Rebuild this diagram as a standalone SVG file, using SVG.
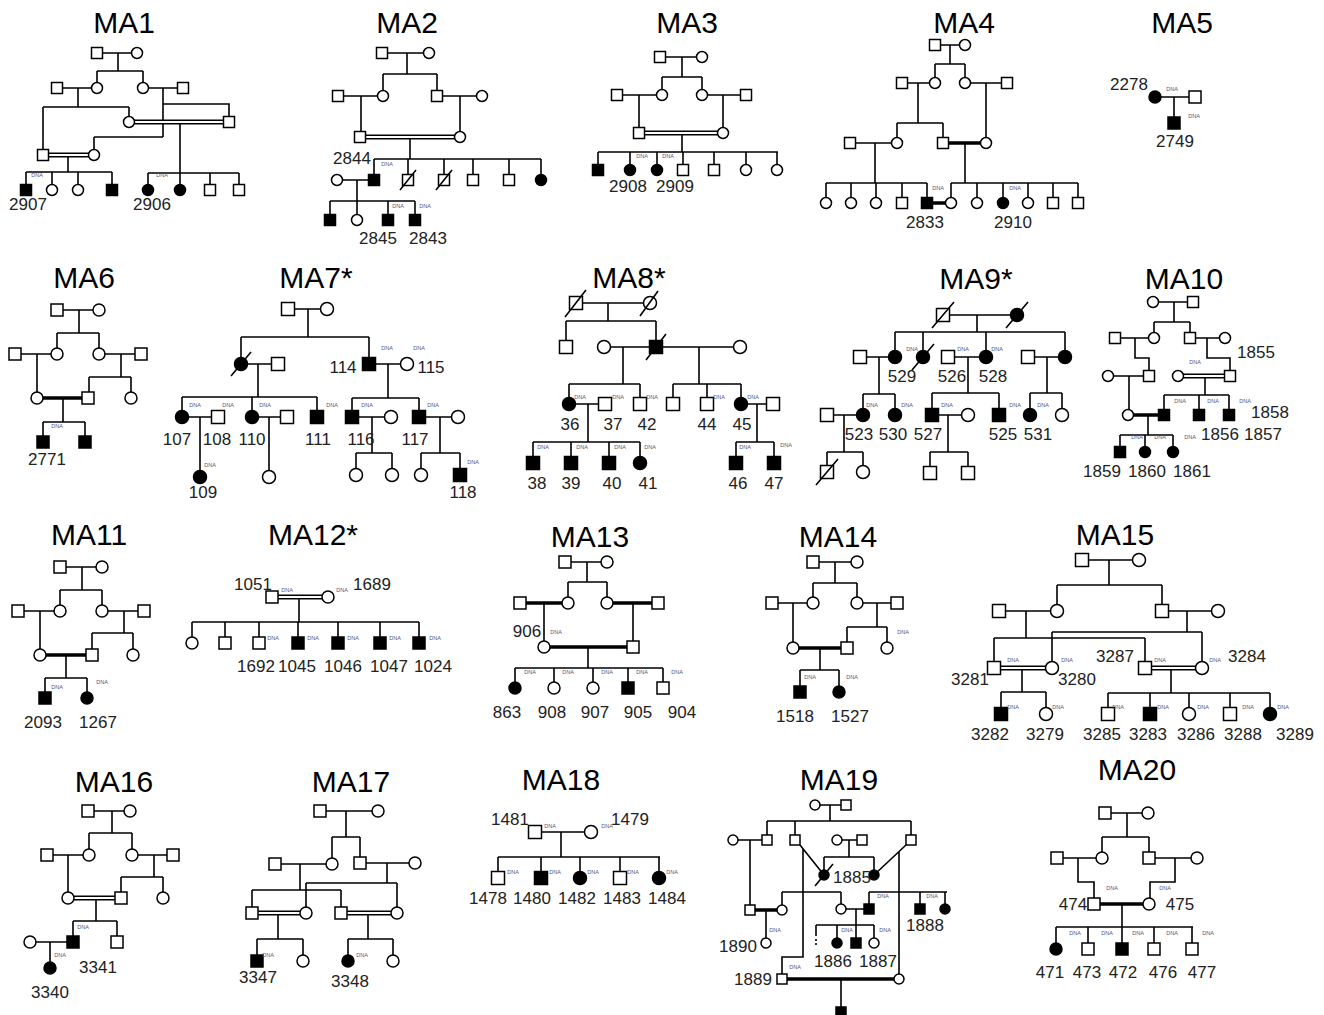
<svg xmlns="http://www.w3.org/2000/svg" xmlns:xlink="http://www.w3.org/1999/xlink" width="1324" height="1015" viewBox="0 0 1324 1015">
<style>
.l{stroke:#000;stroke-width:1.6;fill:none}
.tk{stroke:#000;stroke-width:3.6;fill:none}
.db{stroke:#000;stroke-width:5;fill:none}
.dw{stroke:#fff;stroke-width:1.8;fill:none}
.o{fill:#fff;stroke:#000;stroke-width:1.5}
.f{fill:#000;stroke:#000;stroke-width:1.5}
.ti{font-family:"Liberation Sans",Arial,sans-serif;font-size:30px;text-anchor:middle;fill:#000}
.lb{font-family:"Liberation Sans",Arial,sans-serif;font-size:17px;text-anchor:middle;fill:#222}
.d{font-family:"Liberation Sans",Arial,sans-serif;font-size:5.5px;text-anchor:middle;fill:#557}
</style>
<defs>
<rect id="h" x="-5.5" y="-5.5" width="11" height="11"/>
<circle id="i" r="5.5"/>
<rect id="q" x="-6" y="-6" width="12" height="12"/>
<circle id="r" r="6"/>
<rect id="Q" x="-6.5" y="-6.5" width="13" height="13"/>
<circle id="R" r="6.5"/>
<rect id="k" x="-5" y="-5" width="10" height="10"/>
<circle id="e" r="5"/>
</defs>
<rect width="1324" height="1015" fill="#fff"/>
<g id="connectors">
<path class="l" d="M102,53H132M118,53V71M97,71H143M97,71V88M143,71V88M57,88H97M78,88V107M43,107H129M43,107V155M129,107V122M143,88H183M163,88V137M163,104H229V122M94,137H163M94,137V155M180,122V173M148,173H239M148,173V190M180,173V190M210,173V190M239,173V190M68,155V172M26,172H112M26,172V190M52,172V190M78,172V190M112,172V190"/>
<path class="db" d="M129,122H229M43,155H94"/><path class="dw" d="M134,122H224M48,155H89"/>
<path class="l" d="M382,53H429M407,53V74M383,74H437M383,74V96M437,74V96M338,96H383M361,96V137M437,96H482M460,96V137M410,137V159M374,159H541M374,159V180M408,159V180M444,159V180M473,159V180M509,159V180M541,159V180M337,180H374M357,180V201M330,201H415M330,201V220M357,201V220M388,201V220M415,201V220"/>
<path class="db" d="M360,137H460"/><path class="dw" d="M365,137H455"/>
<path class="l" d="M660,57H702M682,57V77M662,77H702M662,77V95M702,77V95M617,95H662M639,95V133M702,95H746M723,95V133M682,133V152M598,152H778M598,152V170M630,152V170M657,152V170M683,152V170M714,152V170M746,152V170M777,152V170"/>
<path class="db" d="M639,133H723"/><path class="dw" d="M644,133H718"/>
<path class="l" d="M935,45H965M950,45V64M935,64H965M935,64V83M965,64V83M902,83H935M918,83V123M897,123H943M897,123V143M943,123V143M965,83H1007M986,83V143M850,143H897M875,143V183M826,183H927M826,183V203M851,183V203M876,183V203M902,183V203M927,183V203M965,143V183M951,183H1078M951,183V203M977,183V203M1003,183V203M1028,183V203M1053,183V203M1078,183V203"/>
<path class="tk" d="M943,143H986M927,203H951"/>
<path class="l" d="M1155,97H1195M1174,97V123"/>
<path class="l" d="M57,310H99M79,310V333M57,333H99M57,333V354M99,333V354M15,354H57M37,354V398M99,354H141M121,354V377M89,377H131M89,377V398M131,377V398M63,398V422M43,422H85M43,422V442M85,422V442"/>
<path class="tk" d="M37,398H88"/>
<path class="l" d="M288,309H327M308,309V337M241,337H369M241,337V364M369,337V364M241,364H278M258,364V397M182,397H317M182,397V417M252,397V417M317,397V417M369,364H407M388,364V398M352,398H419M352,398V417M419,398V417M182,417H218M200,417V477M252,417H287M269,417V477M352,417H391M372,417V453M356,453H392M356,453V475M392,453V475M419,417H458M440,417V453M421,453H460M421,453V475M460,453V475"/>
<path class="l" d="M576,303H650M608,303V321M566,321H656M566,321V347M656,321V347M604,347H740M623,347V384M569,384H640M569,384V404M640,384V404M569,404H605M588,404V442M533,442H640M533,442V463M571,442V463M609,442V463M640,442V463M699,347V384M673,384H741M673,384V404M707,384V404M741,384V404M741,404H773M757,404V442M736,442H774M736,442V463M774,442V463"/>
<path class="l" d="M943,315H1017M977,315V332M895,332H1065M895,332V357M923,332V357M986,332V357M1065,332V357M860,357H895M879,357V394M863,394H895M863,394V415M895,394V415M827,415H863M844,415V452M827,452H863M827,452V472M863,452V472M948,357H986M968,357V393M932,393H999M932,393V415M999,393V415M932,415H968M948,415V452M930,452H968M930,452V473M968,452V473M1028,357H1065M1047,357V393M1030,393H1062M1030,393V415M1062,393V415"/>
<path class="l" d="M1153,302H1193M1174,302V322M1154,322H1190M1154,322V338M1190,322V338M1115,338H1154M1135,338V358H1149V376M1190,338H1225M1207,338V358H1230V376M1108,376H1149M1129,376V415M1205,376V395M1164,395H1229M1164,395V415M1199,395V415M1229,395V415M1148,415V435M1120,435H1173M1120,435V452M1145,435V452M1173,435V452"/>
<path class="db" d="M1178,376H1230"/><path class="dw" d="M1183,376H1225"/>
<path class="tk" d="M1128,415H1164"/>
<path class="l" d="M60,567H102M82,567V590M60,590H102M60,590V611M102,590V611M18,611H60M40,611V655M102,611H144M124,611V633M92,633H133M92,633V655M133,633V655M66,655V678M45,678H87M45,678V698M87,678V698"/>
<path class="tk" d="M40,655H92"/>
<path class="l" d="M299,597V622M192,622H419M192,622V643M225,622V643M259,622V643M298,622V643M338,622V643M380,622V643M419,622V643"/>
<path class="db" d="M272,597H328"/><path class="dw" d="M277,597H323"/>
<path class="l" d="M565,562H607M587,562V582M568,582H607M568,582V603M607,582V603M544,603V647M633,603V647M588,647V668M515,668H663M515,668V688M554,668V688M593,668V688M628,668V688M663,668V688"/>
<path class="tk" d="M520,603H568M607,603H658M544,647H633"/>
<path class="l" d="M813,562H857M835,562V583M813,583H857M813,583V603M857,583V603M772,603H813M793,603V648M857,603H897M877,603V627M847,627H887M847,627V648M887,627V648M820,648V670M800,670H839M800,670V692M839,670V692"/>
<path class="tk" d="M793,648H847"/>
<path class="l" d="M1082,560H1139M1109,560V585M1057,585H1162M1057,585V611M1162,585V611M999,611H1057M1026,611V638M994,638H1145M994,638V668M1145,638V668M1162,611H1218M1187,611V632M1052,632H1202M1052,632V668M1202,632V668M1022,668V692M1001,692H1046M1001,692V714M1046,692V714M1171,668V693M1108,693H1270M1108,693V714M1150,693V714M1189,693V714M1230,693V714M1270,693V714"/>
<path class="db" d="M994,668H1052M1145,668H1202"/><path class="dw" d="M999,668H1047M1150,668H1197"/>
<path class="l" d="M88,811H130M112,811V833M89,833H132M89,833V855M132,833V855M47,855H89M68,855V898M132,855H173M154,855V877M121,877H163M121,877V898M163,877V898M96,898V921M73,921H117M73,921V942M117,921V942M30,942H73M50,942V968"/>
<path class="db" d="M68,898H121"/><path class="dw" d="M73,898H116"/>
<path class="l" d="M320,811H378M346,811V837M332,837H360M332,837V864M360,837V863M275,864H332M300,864V890M252,890H341M252,890V913M341,890V913M360,863H415M387,863V883M306,883H397M306,883V913M397,883V913M278,913V939M257,939H303M257,939V961M303,939V961M368,913V939M348,939H393M348,939V961M393,939V961"/>
<path class="db" d="M252,913H306M341,913H397"/><path class="dw" d="M257,913H301M346,913H392"/>
<path class="l" d="M535,832H591M561,832V857M498,857H660M498,857V878M541,857V878M580,857V878M620,857V878M659,857V878"/>
<path class="l" d="M815,805H846M830,805V821M767,821H911M767,821V840M795,821V840M911,821V840M733,840H767M750,840V910M800,845L824,875M906,845L874,875M837,840H862M849,840V857M824,857H874M824,857V875M874,857V875M803,849V957H782V979M899,852V979M782,892H841M782,892V910M841,892V909M869,892H947M869,892V909M920,892V909M945,892V909M766,910V943M841,909H869M856,909V925M816,925H874M816,925V936M837,925V943M856,925V943M874,925V943M841,979V1015"/>
<path class="l" d="M816,939V947" stroke-dasharray="2 2"/>
<path class="tk" d="M750,910H782M782,979H899"/>
<path class="l" d="M1105,813H1148M1127,813V837M1102,837H1149M1102,837V858M1149,837V858M1057,858H1102M1078,858V882H1094V904M1149,858H1197M1175,858V882H1150V904M1122,904V927M1056,927H1193M1056,927V949M1088,927V949M1122,927V949M1154,927V949M1192,927V949"/>
<path class="tk" d="M1094,904H1149"/>
</g>
<g id="MA1">
<text class="ti" x="124" y="33">MA1</text>
<use id="n1_1" href="#h" x="97" y="53" class="o"/><use id="n1_2" href="#i" x="137" y="53" class="o"/>
<use id="n1_3" href="#h" x="57" y="88" class="o"/><use id="n1_4" href="#i" x="97" y="88" class="o"/>
<use id="n1_5" href="#i" x="143" y="88" class="o"/><use id="n1_6" href="#h" x="183" y="88" class="o"/>
<use id="n1_7" href="#i" x="129" y="122" class="o"/><use id="n1_8" href="#h" x="229" y="122" class="o"/>
<use id="n1_9" href="#h" x="43" y="155" class="o"/><use id="n1_10" href="#i" x="94" y="155" class="o"/>
<use id="n1_11" href="#h" x="26" y="190" class="f"/><use id="n1_12" href="#i" x="52" y="190" class="o"/>
<use id="n1_13" href="#i" x="78" y="190" class="o"/><use id="n1_14" href="#h" x="112" y="190" class="f"/>
<use id="n1_15" href="#i" x="148" y="190" class="f"/><use id="n1_16" href="#i" x="180" y="190" class="f"/>
<use id="n1_17" href="#h" x="210" y="190" class="o"/><use id="n1_18" href="#h" x="239" y="190" class="o"/>
<text class="lb" x="28" y="210">2907</text><text class="lb" x="152" y="210">2906</text>
<text class="d" x="37" y="177">DNA</text><text class="d" x="162" y="177">DNA</text>
</g>
<g id="MA2">
<text class="ti" x="407" y="33">MA2</text>
<use id="n2_1" href="#h" x="382" y="53" class="o"/><use id="n2_2" href="#i" x="429" y="53" class="o"/>
<use id="n2_3" href="#h" x="338" y="96" class="o"/><use id="n2_4" href="#i" x="383" y="96" class="o"/>
<use id="n2_5" href="#h" x="437" y="96" class="o"/><use id="n2_6" href="#i" x="482" y="96" class="o"/>
<use id="n2_7" href="#h" x="360" y="137" class="o"/><use id="n2_8" href="#i" x="460" y="137" class="o"/>
<use id="n2_9" href="#h" x="374" y="180" class="f"/><use id="n2_10" href="#h" x="408" y="180" class="o"/>
<use id="n2_11" href="#h" x="444" y="180" class="o"/><use id="n2_12" href="#h" x="473" y="180" class="o"/>
<use id="n2_13" href="#h" x="509" y="180" class="o"/><use id="n2_14" href="#i" x="541" y="180" class="f"/>
<use id="n2_15" href="#i" x="337" y="180" class="o"/>
<use id="n2_16" href="#h" x="330" y="220" class="f"/><use id="n2_17" href="#i" x="357" y="220" class="o"/>
<use id="n2_18" href="#h" x="388" y="220" class="f"/><use id="n2_19" href="#h" x="415" y="220" class="f"/>
<path class="l" d="M400,190L416,170M436,190L452,170"/>
<text class="lb" x="352" y="164">2844</text><text class="lb" x="378" y="244">2845</text><text class="lb" x="428" y="244">2843</text>
<text class="d" x="387" y="166">DNA</text><text class="d" x="398" y="208">DNA</text><text class="d" x="425" y="208">DNA</text>
</g>
<g id="MA3">
<text class="ti" x="687" y="33">MA3</text>
<use id="n3_1" href="#h" x="660" y="57" class="o"/><use id="n3_2" href="#i" x="702" y="57" class="o"/>
<use id="n3_3" href="#h" x="617" y="95" class="o"/><use id="n3_4" href="#i" x="662" y="95" class="o"/>
<use id="n3_5" href="#i" x="702" y="95" class="o"/><use id="n3_6" href="#h" x="746" y="95" class="o"/>
<use id="n3_7" href="#h" x="639" y="133" class="o"/><use id="n3_8" href="#i" x="723" y="133" class="o"/>
<use id="n3_9" href="#h" x="598" y="170" class="f"/><use id="n3_10" href="#i" x="630" y="170" class="f"/>
<use id="n3_11" href="#i" x="657" y="170" class="f"/><use id="n3_12" href="#h" x="683" y="170" class="o"/>
<use id="n3_13" href="#h" x="714" y="170" class="o"/><use id="n3_14" href="#i" x="746" y="170" class="o"/>
<use id="n3_15" href="#i" x="777" y="170" class="o"/>
<text class="lb" x="628" y="192">2908</text><text class="lb" x="675" y="192">2909</text>
<text class="d" x="642" y="158">DNA</text><text class="d" x="668" y="158">DNA</text>
</g>
<g id="MA4">
<text class="ti" x="964" y="33">MA4</text>
<use id="n4_1" href="#h" x="935" y="45" class="o"/><use id="n4_2" href="#i" x="965" y="45" class="o"/>
<use id="n4_3" href="#h" x="902" y="83" class="o"/><use id="n4_4" href="#i" x="935" y="83" class="o"/>
<use id="n4_5" href="#i" x="965" y="83" class="o"/><use id="n4_6" href="#h" x="1007" y="83" class="o"/>
<use id="n4_7" href="#h" x="850" y="143" class="o"/><use id="n4_8" href="#i" x="897" y="143" class="o"/>
<use id="n4_9" href="#h" x="943" y="143" class="o"/><use id="n4_10" href="#i" x="986" y="143" class="o"/>
<use id="n4_11" href="#i" x="826" y="203" class="o"/><use id="n4_12" href="#i" x="851" y="203" class="o"/>
<use id="n4_13" href="#i" x="876" y="203" class="o"/><use id="n4_14" href="#h" x="902" y="203" class="o"/>
<use id="n4_15" href="#h" x="927" y="203" class="f"/><use id="n4_16" href="#i" x="951" y="203" class="o"/>
<use id="n4_17" href="#i" x="977" y="203" class="o"/><use id="n4_18" href="#i" x="1003" y="203" class="f"/>
<use id="n4_19" href="#i" x="1028" y="203" class="o"/><use id="n4_20" href="#h" x="1053" y="203" class="o"/>
<use id="n4_21" href="#h" x="1078" y="203" class="o"/>
<text class="lb" x="925" y="228">2833</text><text class="lb" x="1013" y="228">2910</text>
<text class="d" x="938" y="190">DNA</text><text class="d" x="1015" y="190">DNA</text>
</g>
<g id="MA5">
<text class="ti" x="1182" y="33">MA5</text>
<use id="n5_1" href="#r" x="1155" y="97" class="f"/><use id="n5_2" href="#q" x="1195" y="97" class="o"/>
<use id="n5_3" href="#q" x="1174" y="123" class="f"/>
<text class="lb" x="1129" y="90">2278</text><text class="lb" x="1175" y="147">2749</text>
<text class="d" x="1172" y="91">DNA</text><text class="d" x="1194" y="118">DNA</text>
</g>
<g id="MA6">
<text class="ti" x="84" y="288">MA6</text>
<use id="n6_1" href="#q" x="57" y="310" class="o"/><use id="n6_2" href="#r" x="99" y="310" class="o"/>
<use id="n6_3" href="#q" x="15" y="354" class="o"/><use id="n6_4" href="#r" x="57" y="354" class="o"/>
<use id="n6_5" href="#r" x="99" y="354" class="o"/><use id="n6_6" href="#q" x="141" y="354" class="o"/>
<use id="n6_7" href="#r" x="37" y="398" class="o"/><use id="n6_8" href="#q" x="88" y="398" class="o"/>
<use id="n6_9" href="#r" x="131" y="398" class="o"/>
<use id="n6_10" href="#q" x="43" y="442" class="f"/><use id="n6_11" href="#q" x="85" y="442" class="f"/>
<text class="lb" x="47" y="465">2771</text><text class="d" x="57" y="428">DNA</text>
</g>
<g id="MA7">
<text class="ti" x="316" y="288">MA7*</text>
<use id="n7_1" href="#Q" x="288" y="309" class="o"/><use id="n7_2" href="#R" x="327" y="309" class="o"/>
<use id="n7_3" href="#R" x="241" y="364" class="f"/><use id="n7_4" href="#Q" x="278" y="364" class="o"/>
<use id="n7_5" href="#Q" x="369" y="364" class="f"/><use id="n7_6" href="#R" x="407" y="364" class="o"/>
<use id="n7_7" href="#R" x="182" y="417" class="f"/><use id="n7_8" href="#Q" x="218" y="417" class="o"/>
<use id="n7_9" href="#R" x="252" y="417" class="f"/><use id="n7_10" href="#Q" x="287" y="417" class="o"/>
<use id="n7_11" href="#Q" x="317" y="417" class="f"/><use id="n7_12" href="#Q" x="352" y="417" class="f"/>
<use id="n7_13" href="#R" x="391" y="417" class="o"/><use id="n7_14" href="#Q" x="419" y="417" class="f"/>
<use id="n7_15" href="#R" x="458" y="417" class="o"/>
<use id="n7_16" href="#R" x="200" y="477" class="f"/><use id="n7_17" href="#R" x="269" y="477" class="o"/>
<use id="n7_18" href="#R" x="356" y="475" class="o"/><use id="n7_19" href="#R" x="392" y="475" class="o"/>
<use id="n7_20" href="#R" x="421" y="475" class="o"/><use id="n7_21" href="#Q" x="460" y="475" class="f"/>
<path class="l" d="M231,376L251,352"/>
<text class="lb" x="343" y="373">114</text><text class="lb" x="431" y="373">115</text>
<text class="lb" x="177" y="445">107</text><text class="lb" x="217" y="445">108</text><text class="lb" x="252" y="445">110</text>
<text class="lb" x="318" y="445">111</text><text class="lb" x="361" y="445">116</text><text class="lb" x="415" y="445">117</text>
<text class="lb" x="203" y="498">109</text><text class="lb" x="463" y="498">118</text>
<text class="d" x="387" y="350">DNA</text><text class="d" x="419" y="350">DNA</text>
<text class="d" x="195" y="407">DNA</text><text class="d" x="228" y="407">DNA</text><text class="d" x="265" y="407">DNA</text>
<text class="d" x="332" y="407">DNA</text><text class="d" x="367" y="407">DNA</text><text class="d" x="433" y="407">DNA</text>
<text class="d" x="210" y="467">DNA</text><text class="d" x="473" y="464">DNA</text>
</g>
<g id="MA8">
<text class="ti" x="629" y="288">MA8*</text>
<use id="n8_1" href="#Q" x="576" y="303" class="o"/><use id="n8_2" href="#R" x="650" y="303" class="o"/>
<use id="n8_3" href="#Q" x="566" y="347" class="o"/><use id="n8_4" href="#Q" x="656" y="347" class="f"/>
<use id="n8_5" href="#R" x="604" y="347" class="o"/><use id="n8_6" href="#R" x="740" y="347" class="o"/>
<use id="n8_7" href="#R" x="569" y="404" class="f"/><use id="n8_8" href="#Q" x="605" y="404" class="o"/>
<use id="n8_9" href="#Q" x="640" y="404" class="o"/>
<use id="n8_10" href="#Q" x="533" y="463" class="f"/><use id="n8_11" href="#Q" x="571" y="463" class="f"/>
<use id="n8_12" href="#Q" x="609" y="463" class="f"/><use id="n8_13" href="#R" x="640" y="463" class="f"/>
<use id="n8_14" href="#Q" x="673" y="404" class="o"/><use id="n8_15" href="#Q" x="707" y="404" class="o"/>
<use id="n8_16" href="#R" x="741" y="404" class="f"/><use id="n8_17" href="#Q" x="773" y="404" class="o"/>
<use id="n8_18" href="#Q" x="736" y="463" class="f"/><use id="n8_19" href="#Q" x="774" y="463" class="f"/>
<path class="l" d="M565,317L586,290M640,316L658,291M646,360L666,334"/>
<text class="lb" x="570" y="430">36</text><text class="lb" x="613" y="430">37</text><text class="lb" x="647" y="430">42</text>
<text class="lb" x="707" y="430">44</text><text class="lb" x="742" y="430">45</text>
<text class="lb" x="537" y="489">38</text><text class="lb" x="571" y="489">39</text><text class="lb" x="612" y="489">40</text>
<text class="lb" x="648" y="489">41</text><text class="lb" x="738" y="489">46</text><text class="lb" x="774" y="489">47</text>
<text class="d" x="580" y="399">DNA</text><text class="d" x="618" y="399">DNA</text><text class="d" x="652" y="399">DNA</text>
<text class="d" x="719" y="399">DNA</text><text class="d" x="753" y="399">DNA</text>
<text class="d" x="543" y="449">DNA</text><text class="d" x="582" y="449">DNA</text><text class="d" x="620" y="449">DNA</text>
<text class="d" x="650" y="449">DNA</text><text class="d" x="745" y="449">DNA</text><text class="d" x="786" y="447">DNA</text>
</g>
<g id="MA9">
<text class="ti" x="976" y="289">MA9*</text>
<use id="n9_1" href="#Q" x="943" y="315" class="o"/><use id="n9_2" href="#R" x="1017" y="315" class="f"/>
<use id="n9_3" href="#Q" x="860" y="357" class="o"/><use id="n9_4" href="#R" x="895" y="357" class="f"/>
<use id="n9_5" href="#R" x="923" y="357" class="f"/><use id="n9_6" href="#Q" x="948" y="357" class="o"/>
<use id="n9_7" href="#R" x="986" y="357" class="f"/><use id="n9_8" href="#Q" x="1028" y="357" class="o"/>
<use id="n9_9" href="#R" x="1065" y="357" class="f"/>
<use id="n9_10" href="#Q" x="827" y="415" class="o"/><use id="n9_11" href="#R" x="863" y="415" class="f"/>
<use id="n9_12" href="#R" x="895" y="415" class="f"/><use id="n9_13" href="#Q" x="932" y="415" class="f"/>
<use id="n9_14" href="#R" x="968" y="415" class="o"/><use id="n9_15" href="#Q" x="999" y="415" class="f"/>
<use id="n9_16" href="#R" x="1030" y="415" class="f"/><use id="n9_17" href="#R" x="1062" y="415" class="o"/>
<use id="n9_18" href="#Q" x="827" y="472" class="o"/><use id="n9_19" href="#R" x="863" y="472" class="o"/>
<use id="n9_20" href="#Q" x="930" y="473" class="o"/><use id="n9_21" href="#Q" x="968" y="473" class="o"/>
<path class="l" d="M932,328L954,302M1006,328L1028,302M912,370L934,344M816,485L838,459"/>
<text class="lb" x="902" y="382">529</text><text class="lb" x="952" y="382">526</text><text class="lb" x="993" y="382">528</text>
<text class="lb" x="859" y="440">523</text><text class="lb" x="893" y="440">530</text><text class="lb" x="928" y="440">527</text>
<text class="lb" x="1003" y="440">525</text><text class="lb" x="1038" y="440">531</text>
<text class="d" x="912" y="351">DNA</text><text class="d" x="963" y="351">DNA</text><text class="d" x="997" y="351">DNA</text>
<text class="d" x="872" y="407">DNA</text><text class="d" x="907" y="407">DNA</text><text class="d" x="947" y="407">DNA</text>
<text class="d" x="1015" y="407">DNA</text><text class="d" x="1043" y="407">DNA</text>
</g>
<g id="MA10">
<text class="ti" x="1184" y="289">MA10</text>
<use id="n10_1" href="#i" x="1153" y="302" class="o"/><use id="n10_2" href="#h" x="1193" y="302" class="o"/>
<use id="n10_3" href="#h" x="1115" y="338" class="o"/><use id="n10_4" href="#i" x="1154" y="338" class="o"/>
<use id="n10_5" href="#h" x="1190" y="338" class="o"/><use id="n10_6" href="#i" x="1225" y="338" class="o"/>
<use id="n10_7" href="#i" x="1108" y="376" class="o"/><use id="n10_8" href="#h" x="1149" y="376" class="o"/>
<use id="n10_9" href="#i" x="1178" y="376" class="o"/><use id="n10_10" href="#h" x="1230" y="376" class="o"/>
<use id="n10_11" href="#i" x="1128" y="415" class="o"/><use id="n10_12" href="#h" x="1164" y="415" class="f"/>
<use id="n10_13" href="#h" x="1199" y="415" class="f"/><use id="n10_14" href="#h" x="1229" y="415" class="f"/>
<use id="n10_15" href="#h" x="1120" y="452" class="f"/><use id="n10_16" href="#i" x="1145" y="452" class="f"/>
<use id="n10_17" href="#i" x="1173" y="452" class="f"/>
<text class="lb" x="1256" y="358">1855</text><text class="lb" x="1270" y="418">1858</text>
<text class="lb" x="1220" y="440">1856</text><text class="lb" x="1263" y="440">1857</text>
<text class="lb" x="1102" y="477">1859</text><text class="lb" x="1147" y="477">1860</text><text class="lb" x="1192" y="477">1861</text>
<text class="d" x="1195" y="364">DNA</text><text class="d" x="1180" y="403">DNA</text><text class="d" x="1213" y="403">DNA</text>
<text class="d" x="1245" y="403">DNA</text><text class="d" x="1137" y="439">DNA</text><text class="d" x="1160" y="439">DNA</text>
<text class="d" x="1190" y="439">DNA</text>
</g>
<g id="MA11">
<text class="ti" x="89" y="545">MA11</text>
<use id="n11_1" href="#q" x="60" y="567" class="o"/><use id="n11_2" href="#r" x="102" y="567" class="o"/>
<use id="n11_3" href="#q" x="18" y="611" class="o"/><use id="n11_4" href="#r" x="60" y="611" class="o"/>
<use id="n11_5" href="#r" x="102" y="611" class="o"/><use id="n11_6" href="#q" x="144" y="611" class="o"/>
<use id="n11_7" href="#r" x="40" y="655" class="o"/><use id="n11_8" href="#q" x="92" y="655" class="o"/>
<use id="n11_9" href="#r" x="133" y="655" class="o"/>
<use id="n11_10" href="#q" x="45" y="698" class="f"/><use id="n11_11" href="#r" x="87" y="698" class="f"/>
<text class="lb" x="43" y="728">2093</text><text class="lb" x="98" y="728">1267</text>
<text class="d" x="57" y="689">DNA</text><text class="d" x="102" y="684">DNA</text>
</g>
<g id="MA12">
<text class="ti" x="313" y="545">MA12*</text>
<use id="n12_1" href="#q" x="272" y="597" class="o"/><use id="n12_2" href="#r" x="328" y="597" class="o"/>
<use id="n12_3" href="#r" x="192" y="643" class="o"/><use id="n12_4" href="#q" x="225" y="643" class="o"/>
<use id="n12_5" href="#q" x="259" y="643" class="o"/><use id="n12_6" href="#q" x="298" y="643" class="f"/>
<use id="n12_7" href="#q" x="338" y="643" class="f"/><use id="n12_8" href="#q" x="380" y="643" class="f"/>
<use id="n12_9" href="#q" x="419" y="643" class="f"/>
<text class="lb" x="253" y="590">1051</text><text class="lb" x="372" y="590">1689</text>
<text class="lb" x="256" y="672">1692</text><text class="lb" x="297" y="672">1045</text><text class="lb" x="343" y="672">1046</text>
<text class="lb" x="389" y="672">1047</text><text class="lb" x="433" y="672">1024</text>
<text class="d" x="287" y="592">DNA</text><text class="d" x="342" y="592">DNA</text>
<text class="d" x="273" y="640">DNA</text><text class="d" x="313" y="640">DNA</text><text class="d" x="353" y="640">DNA</text>
<text class="d" x="395" y="640">DNA</text><text class="d" x="435" y="640">DNA</text>
</g>
<g id="MA13">
<text class="ti" x="590" y="547">MA13</text>
<use id="n13_1" href="#q" x="565" y="562" class="o"/><use id="n13_2" href="#r" x="607" y="562" class="o"/>
<use id="n13_3" href="#q" x="520" y="603" class="o"/><use id="n13_4" href="#r" x="568" y="603" class="o"/>
<use id="n13_5" href="#r" x="607" y="603" class="o"/><use id="n13_6" href="#q" x="658" y="603" class="o"/>
<use id="n13_7" href="#r" x="544" y="647" class="o"/><use id="n13_8" href="#q" x="633" y="647" class="o"/>
<use id="n13_9" href="#r" x="515" y="688" class="f"/><use id="n13_10" href="#r" x="554" y="688" class="o"/>
<use id="n13_11" href="#r" x="593" y="688" class="o"/><use id="n13_12" href="#q" x="628" y="688" class="f"/>
<use id="n13_13" href="#q" x="663" y="688" class="o"/>
<text class="lb" x="527" y="637">906</text>
<text class="lb" x="507" y="718">863</text><text class="lb" x="552" y="718">908</text><text class="lb" x="595" y="718">907</text>
<text class="lb" x="638" y="718">905</text><text class="lb" x="682" y="718">904</text>
<text class="d" x="556" y="634">DNA</text><text class="d" x="530" y="674">DNA</text><text class="d" x="568" y="674">DNA</text>
<text class="d" x="607" y="674">DNA</text><text class="d" x="642" y="674">DNA</text><text class="d" x="677" y="674">DNA</text>
</g>
<g id="MA14">
<text class="ti" x="838" y="547">MA14</text>
<use id="n14_1" href="#q" x="813" y="562" class="o"/><use id="n14_2" href="#r" x="857" y="562" class="o"/>
<use id="n14_3" href="#q" x="772" y="603" class="o"/><use id="n14_4" href="#r" x="813" y="603" class="o"/>
<use id="n14_5" href="#r" x="857" y="603" class="o"/><use id="n14_6" href="#q" x="897" y="603" class="o"/>
<use id="n14_7" href="#r" x="793" y="648" class="o"/><use id="n14_8" href="#q" x="847" y="648" class="o"/>
<use id="n14_9" href="#r" x="887" y="648" class="o"/>
<use id="n14_10" href="#q" x="800" y="692" class="f"/><use id="n14_11" href="#r" x="839" y="692" class="f"/>
<text class="lb" x="795" y="722">1518</text><text class="lb" x="850" y="722">1527</text>
<text class="d" x="903" y="634">DNA</text><text class="d" x="810" y="679">DNA</text><text class="d" x="852" y="679">DNA</text>
</g>
<g id="MA15">
<text class="ti" x="1115" y="545">MA15</text>
<use id="n15_1" href="#Q" x="1082" y="560" class="o"/><use id="n15_2" href="#R" x="1139" y="560" class="o"/>
<use id="n15_3" href="#Q" x="999" y="611" class="o"/><use id="n15_4" href="#R" x="1057" y="611" class="o"/>
<use id="n15_5" href="#Q" x="1162" y="611" class="o"/><use id="n15_6" href="#R" x="1218" y="611" class="o"/>
<use id="n15_7" href="#Q" x="994" y="668" class="o"/><use id="n15_8" href="#R" x="1052" y="668" class="o"/>
<use id="n15_9" href="#Q" x="1145" y="668" class="o"/><use id="n15_10" href="#R" x="1202" y="668" class="o"/>
<use id="n15_11" href="#Q" x="1001" y="714" class="f"/><use id="n15_12" href="#R" x="1046" y="714" class="o"/>
<use id="n15_13" href="#Q" x="1108" y="714" class="o"/><use id="n15_14" href="#Q" x="1150" y="714" class="f"/>
<use id="n15_15" href="#R" x="1189" y="714" class="o"/><use id="n15_16" href="#Q" x="1230" y="714" class="o"/>
<use id="n15_17" href="#R" x="1270" y="714" class="f"/>
<text class="lb" x="970" y="685">3281</text><text class="lb" x="1077" y="685">3280</text>
<text class="lb" x="1115" y="662">3287</text><text class="lb" x="1247" y="662">3284</text>
<text class="lb" x="990" y="740">3282</text><text class="lb" x="1045" y="740">3279</text><text class="lb" x="1102" y="740">3285</text>
<text class="lb" x="1148" y="740">3283</text><text class="lb" x="1196" y="740">3286</text><text class="lb" x="1243" y="740">3288</text>
<text class="lb" x="1295" y="740">3289</text>
<text class="d" x="1013" y="662">DNA</text><text class="d" x="1067" y="662">DNA</text><text class="d" x="1160" y="662">DNA</text>
<text class="d" x="1215" y="662">DNA</text><text class="d" x="1013" y="709">DNA</text><text class="d" x="1058" y="709">DNA</text>
<text class="d" x="1118" y="709">DNA</text><text class="d" x="1163" y="709">DNA</text><text class="d" x="1203" y="709">DNA</text>
<text class="d" x="1248" y="709">DNA</text><text class="d" x="1283" y="709">DNA</text>
</g>
<g id="MA16">
<text class="ti" x="114" y="792">MA16</text>
<use id="n16_1" href="#q" x="88" y="811" class="o"/><use id="n16_2" href="#r" x="130" y="811" class="o"/>
<use id="n16_3" href="#q" x="47" y="855" class="o"/><use id="n16_4" href="#r" x="89" y="855" class="o"/>
<use id="n16_5" href="#r" x="132" y="855" class="o"/><use id="n16_6" href="#q" x="173" y="855" class="o"/>
<use id="n16_7" href="#r" x="68" y="898" class="o"/><use id="n16_8" href="#q" x="121" y="898" class="o"/>
<use id="n16_9" href="#r" x="163" y="898" class="o"/>
<use id="n16_10" href="#q" x="73" y="942" class="f"/><use id="n16_11" href="#q" x="117" y="942" class="o"/>
<use id="n16_12" href="#r" x="30" y="942" class="o"/><use id="n16_13" href="#r" x="50" y="968" class="f"/>
<text class="lb" x="98" y="973">3341</text><text class="lb" x="50" y="998">3340</text>
<text class="d" x="83" y="929">DNA</text><text class="d" x="60" y="957">DNA</text>
</g>
<g id="MA17">
<text class="ti" x="351" y="792">MA17</text>
<use id="n17_1" href="#q" x="320" y="811" class="o"/><use id="n17_2" href="#r" x="378" y="811" class="o"/>
<use id="n17_3" href="#q" x="275" y="864" class="o"/><use id="n17_4" href="#r" x="332" y="864" class="o"/>
<use id="n17_5" href="#q" x="360" y="863" class="o"/><use id="n17_6" href="#r" x="415" y="863" class="o"/>
<use id="n17_7" href="#q" x="252" y="913" class="o"/><use id="n17_8" href="#r" x="306" y="913" class="o"/>
<use id="n17_9" href="#q" x="341" y="913" class="o"/><use id="n17_10" href="#r" x="397" y="913" class="o"/>
<use id="n17_11" href="#q" x="257" y="961" class="f"/><use id="n17_12" href="#r" x="303" y="961" class="o"/>
<use id="n17_13" href="#r" x="348" y="961" class="f"/><use id="n17_14" href="#r" x="393" y="961" class="o"/>
<text class="lb" x="258" y="983">3347</text><text class="lb" x="350" y="987">3348</text>
<text class="d" x="268" y="957">DNA</text><text class="d" x="362" y="957">DNA</text>
</g>
<g id="MA18">
<text class="ti" x="561" y="790">MA18</text>
<use id="n18_1" href="#Q" x="535" y="832" class="o"/><use id="n18_2" href="#R" x="591" y="832" class="o"/>
<use id="n18_3" href="#Q" x="498" y="878" class="o"/><use id="n18_4" href="#Q" x="541" y="878" class="f"/>
<use id="n18_5" href="#R" x="580" y="878" class="f"/><use id="n18_6" href="#Q" x="620" y="878" class="o"/>
<use id="n18_7" href="#R" x="659" y="878" class="f"/>
<text class="lb" x="510" y="825">1481</text><text class="lb" x="630" y="825">1479</text>
<text class="lb" x="488" y="904">1478</text><text class="lb" x="532" y="904">1480</text><text class="lb" x="577" y="904">1482</text>
<text class="lb" x="622" y="904">1483</text><text class="lb" x="667" y="904">1484</text>
<text class="d" x="550" y="828">DNA</text><text class="d" x="607" y="828">DNA</text>
<text class="d" x="513" y="874">DNA</text><text class="d" x="555" y="874">DNA</text><text class="d" x="593" y="874">DNA</text>
<text class="d" x="633" y="874">DNA</text><text class="d" x="672" y="874">DNA</text>
</g>
<g id="MA19">
<text class="ti" x="839" y="790">MA19</text>
<use id="n19_1" href="#e" x="815" y="805" class="o"/><use id="n19_2" href="#k" x="846" y="805" class="o"/>
<use id="n19_3" href="#e" x="733" y="840" class="o"/><use id="n19_4" href="#k" x="767" y="840" class="o"/>
<use id="n19_5" href="#k" x="795" y="840" class="o"/><use id="n19_6" href="#e" x="837" y="840" class="o"/>
<use id="n19_7" href="#k" x="862" y="840" class="o"/><use id="n19_8" href="#k" x="911" y="840" class="o"/>
<use id="n19_9" href="#e" x="824" y="875" class="f"/><use id="n19_10" href="#e" x="874" y="875" class="f"/>
<use id="n19_11" href="#k" x="750" y="910" class="o"/><use id="n19_12" href="#e" x="782" y="910" class="o"/>
<use id="n19_13" href="#e" x="841" y="909" class="o"/><use id="n19_14" href="#k" x="869" y="909" class="f"/>
<use id="n19_15" href="#k" x="920" y="909" class="f"/><use id="n19_16" href="#e" x="945" y="909" class="f"/>
<use id="n19_17" href="#e" x="766" y="943" class="o"/><use id="n19_18" href="#e" x="837" y="943" class="f"/>
<use id="n19_19" href="#k" x="856" y="943" class="f"/><use id="n19_20" href="#e" x="874" y="943" class="o"/>
<use id="n19_21" href="#k" x="782" y="979" class="o"/><use id="n19_22" href="#e" x="899" y="979" class="o"/>
<use id="n19_23" href="#k" x="841" y="1012" class="f"/>
<path class="l" d="M815,886L833,864"/>
<text class="lb" x="852" y="883">1885</text><text class="lb" x="738" y="952">1890</text>
<text class="lb" x="833" y="967">1886</text><text class="lb" x="878" y="967">1887</text>
<text class="lb" x="753" y="985">1889</text><text class="lb" x="925" y="931">1888</text>
<text class="d" x="775" y="932">DNA</text><text class="d" x="883" y="898">DNA</text><text class="d" x="932" y="898">DNA</text>
<text class="d" x="847" y="932">DNA</text><text class="d" x="885" y="932">DNA</text><text class="d" x="795" y="969">DNA</text>
</g>
<g id="MA20">
<text class="ti" x="1137" y="780">MA20</text>
<use id="n20_1" href="#q" x="1105" y="813" class="o"/><use id="n20_2" href="#r" x="1148" y="813" class="o"/>
<use id="n20_3" href="#q" x="1057" y="858" class="o"/><use id="n20_4" href="#r" x="1102" y="858" class="o"/>
<use id="n20_5" href="#q" x="1149" y="858" class="o"/><use id="n20_6" href="#r" x="1197" y="858" class="o"/>
<use id="n20_7" href="#q" x="1094" y="904" class="o"/><use id="n20_8" href="#r" x="1149" y="904" class="o"/>
<use id="n20_9" href="#r" x="1056" y="949" class="f"/><use id="n20_10" href="#q" x="1088" y="949" class="o"/>
<use id="n20_11" href="#q" x="1122" y="949" class="f"/><use id="n20_12" href="#q" x="1154" y="949" class="o"/>
<use id="n20_13" href="#q" x="1192" y="949" class="o"/>
<text class="lb" x="1073" y="910">474</text><text class="lb" x="1180" y="910">475</text>
<text class="lb" x="1050" y="978">471</text><text class="lb" x="1087" y="978">473</text><text class="lb" x="1123" y="978">472</text>
<text class="lb" x="1163" y="978">476</text><text class="lb" x="1202" y="978">477</text>
<text class="d" x="1112" y="890">DNA</text><text class="d" x="1165" y="890">DNA</text>
<text class="d" x="1075" y="935">DNA</text><text class="d" x="1107" y="935">DNA</text><text class="d" x="1138" y="935">DNA</text>
<text class="d" x="1172" y="935">DNA</text><text class="d" x="1208" y="935">DNA</text>
</g>
</svg>
